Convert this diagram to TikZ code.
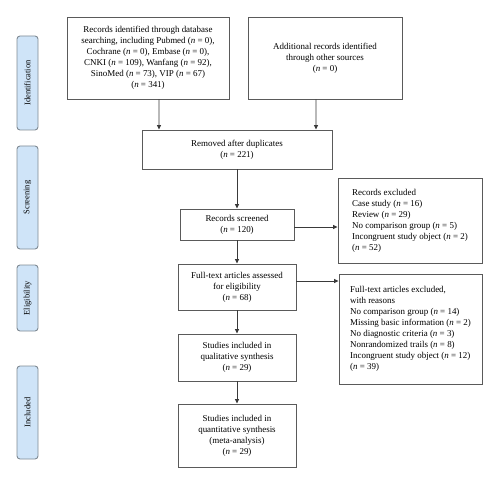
\documentclass[tikz,border=0pt]{standalone}
\usepackage{fontspec}
\setmainfont{Liberation Serif}
\usetikzlibrary{arrows.meta}
\definecolor{boxc}{HTML}{5A5A5A}
\definecolor{sidefill}{HTML}{CFE4F8}
\definecolor{sidedraw}{HTML}{7F8A94}
\definecolor{arrc}{HTML}{3A3A3A}
\begin{document}
\begin{tikzpicture}[x=1bp,y=-1bp,
  box/.style={draw=boxc, line width=0.9bp, inner sep=2bp, align=center, font=\fontsize{9}{11}\selectfont},
  lbox/.style={box, align=left},
  side/.style={draw=sidedraw, fill=sidefill, line width=0.9bp, rounded corners=3bp, rotate=90, minimum height=21bp, inner sep=0, font=\fontsize{8.5}{10}\selectfont},
  arr/.style={draw=arrc, line width=0.8bp, -{Triangle[length=4.5bp,width=4bp]}}]
\useasboundingbox (0,0) rectangle (500,485);
% stage labels
\node[side, minimum width=94bp] (sid) at (27.5,83) {Identification};
\node[side, minimum width=103bp] (ssc) at (27.5,197.5) {Screening};
\node[side, minimum width=66bp] (sel) at (27.5,298) {Eligibility};
\node[side, minimum width=93bp] (sin) at (27.5,412.5) {Included};
% boxes
\node[box, minimum width=162bp, minimum height=82bp] (b1) at (148,58)
  {Records identified through database\\searching, including Pubmed (\textit{n} = 0),\\Cochrane (\textit{n} = 0), Embase (\textit{n} = 0),\\CNKI (\textit{n} = 109), Wanfang (\textit{n} = 92),\\SinoMed (\textit{n} = 73), VIP (\textit{n} = 67)\\(\textit{n} = 341)};
\node[box, minimum width=154bp, minimum height=82bp] (b2) at (325,58)
  {Additional records identified\\through other sources\\(\textit{n} = 0)};
\node[box, minimum width=190bp, minimum height=39bp] (b3) at (237,149.5)
  {Removed after duplicates\\(\textit{n} = 221)};
\node[box, minimum width=114bp, minimum height=31bp] (b4) at (237,224.5)
  {Records screened\\(\textit{n} = 120)};
\node[lbox, minimum width=144bp, minimum height=85bp] (b5) at (410,220.5)
  {Records excluded\\Case study (\textit{n} = 16)\\Review (\textit{n} = 29)\\No comparison group (\textit{n} = 5)\\Incongruent study object (\textit{n} = 2)\\(\textit{n} = 52)};
\node[box, minimum width=118bp, minimum height=46bp] (b6) at (237,287)
  {Full-text articles assessed\\for eligibility\\(\textit{n} = 68)};
\node[lbox, minimum width=143bp, minimum height=110bp] (b7) at (410.5,329)
  {Full-text articles excluded,\\with reasons\\No comparison group (\textit{n} = 14)\\Missing basic information (\textit{n} = 2)\\No diagnostic criteria (\textit{n} = 3)\\Nonrandomized trails (\textit{n} = 8)\\Incongruent study object (\textit{n} = 12)\\(\textit{n} = 39)};
\node[box, minimum width=118bp, minimum height=47bp] (b8) at (237,357.5)
  {Studies included in\\qualitative synthesis\\(\textit{n} = 29)};
\node[box, minimum width=118bp, minimum height=63bp] (b9) at (237,435.5)
  {Studies included in\\quantitative synthesis\\(meta-analysis)\\(\textit{n} = 29)};
% connectors
\draw[arr] ([xshift=11bp]b1.south) -- ([xshift=-78bp]b3.north);
\draw[arr] ([xshift=-9bp]b2.south) -- ([xshift=79bp]b3.north);
\draw[arr] (b3) -- (b4);
\draw[arr] ([yshift=-2.5bp]b4.east) -- ([yshift=-2.5bp]b4.east -| b5.west);
\draw[arr] (b4) -- (b6);
\draw[arr] ([yshift=6bp]b6.east) -- ([yshift=6bp]b6.east -| b7.west);
\draw[arr] (b6) -- (b8);
\draw[arr] (b8) -- (b9);
\end{tikzpicture}
\end{document}
